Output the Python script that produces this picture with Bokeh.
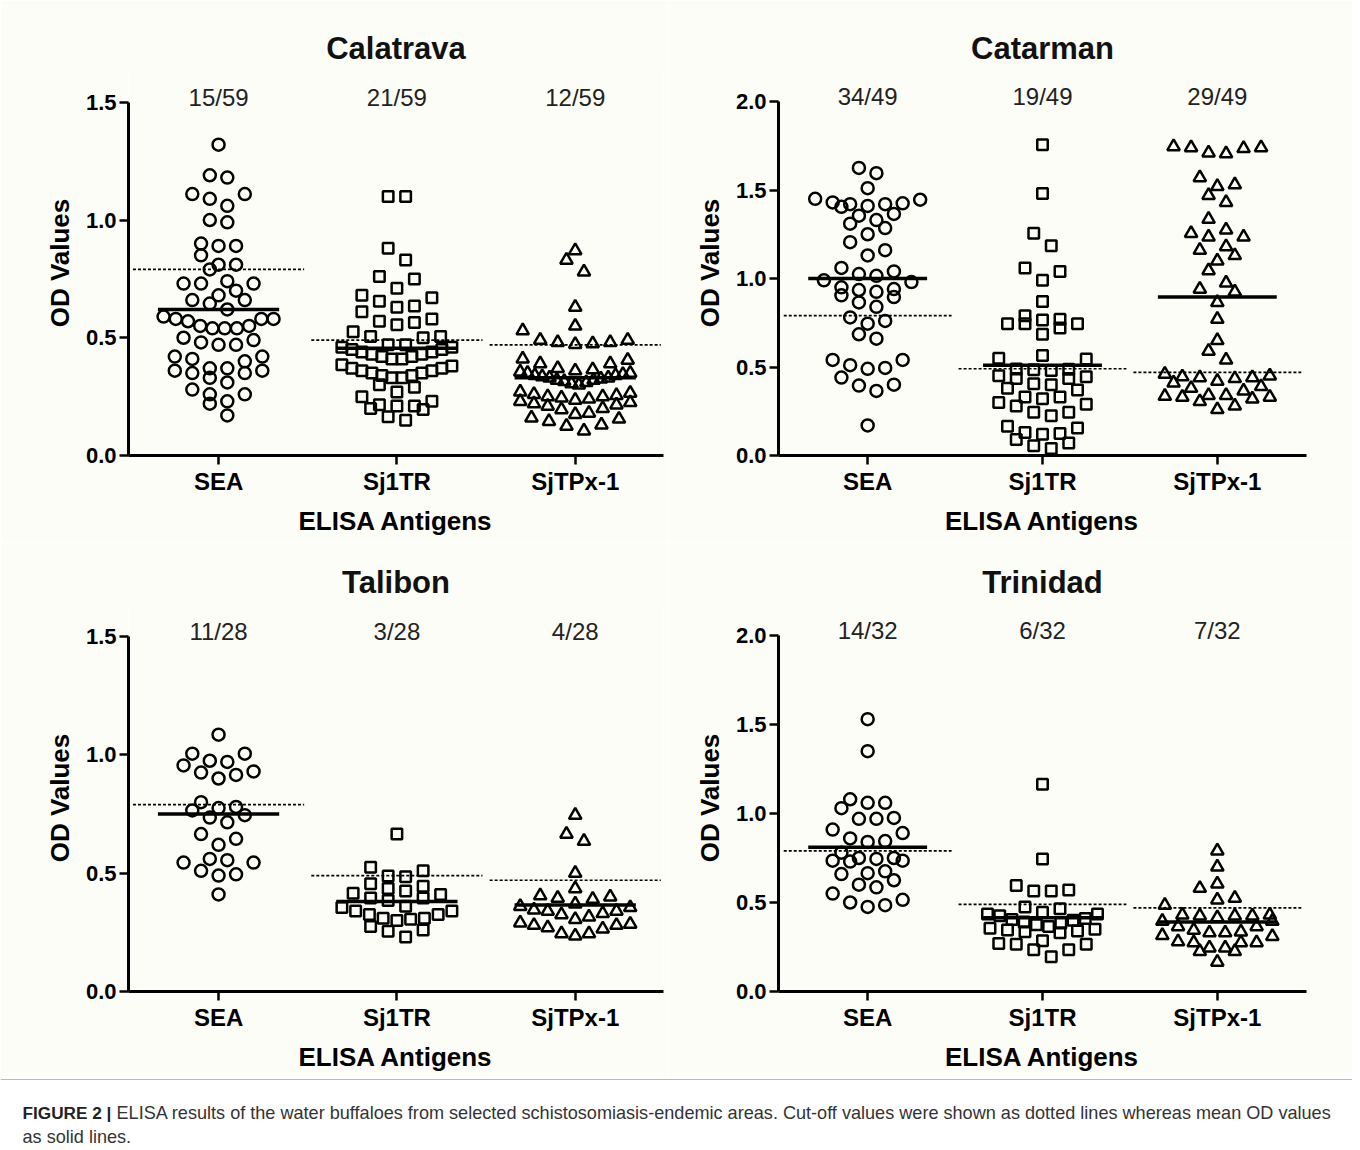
from bokeh.plotting import figure
from bokeh.models import Range1d, FixedTicker, PrintfTickFormatter
from bokeh.layouts import column, row
from bokeh.embed import file_html
from bokeh.resources import INLINE
from bokeh.core.properties import value

# ---------------- data ----------------
antigens = ["SEA", "Sj1TR", "SjTPx-1"]
cutoffs = [0.79, 0.49, 0.47]

calatrava_sea = [1.32, 1.19, 1.18, 1.11, 1.09, 1.11, 1.06, 1.00, 0.99, 0.89, 0.89, 0.90, 0.85,
                 0.81, 0.79, 0.81, 0.74, 0.73, 0.73, 0.73, 0.70, 0.68, 0.66, 0.66, 0.645,
                 0.62, 0.58, 0.58, 0.57, 0.58, 0.59, 0.55, 0.54, 0.54, 0.54, 0.55,
                 0.48, 0.47, 0.49, 0.50, 0.47, 0.42, 0.41, 0.42, 0.40,
                 0.37, 0.36, 0.35, 0.31, 0.33, 0.35, 0.36, 0.37, 0.28, 0.26, 0.26, 0.23, 0.22, 0.17]
calatrava_sj1tr = [1.10, 1.10, 0.88, 0.83, 0.76, 0.75, 0.71, 0.68, 0.655, 0.67, 0.63, 0.635,
                   0.58, 0.57, 0.61, 0.555, 0.565, 0.505, 0.50, 0.505, 0.525,
                   0.47, 0.47, 0.46, 0.46, 0.45, 0.45, 0.44, 0.44, 0.43, 0.43, 0.42, 0.42, 0.41,
                   0.41, 0.385,
                   0.38, 0.37, 0.37, 0.36, 0.36, 0.35, 0.35, 0.34, 0.34, 0.33, 0.33,
                   0.30, 0.27, 0.29, 0.21, 0.195, 0.23, 0.215, 0.25, 0.20, 0.21, 0.15, 0.165]
calatrava_sjtpx = [0.87, 0.83, 0.78, 0.63, 0.55, 0.53, 0.49, 0.48, 0.475, 0.48, 0.49, 0.472,
                   0.41, 0.39, 0.39, 0.405, 0.37, 0.365,
                   0.36, 0.355, 0.35, 0.35, 0.345, 0.34, 0.34, 0.335, 0.33, 0.33, 0.325, 0.32,
                   0.32, 0.315, 0.31, 0.305, 0.30,
                   0.27, 0.265, 0.26, 0.255, 0.25, 0.25, 0.245, 0.24, 0.235, 0.23, 0.225, 0.22,
                   0.215, 0.21, 0.20, 0.195,
                   0.175, 0.155, 0.13, 0.105, 0.125, 0.145, 0.16, 0.18]

catarman_sea = [1.625, 1.595, 1.51, 1.45, 1.43, 1.42, 1.405, 1.365, 1.355, 1.41, 1.42, 1.425, 1.445,
                1.31, 1.285, 1.33, 1.25, 1.205, 1.16, 1.13, 1.04, 1.015, 1.025, 1.06,
                0.99, 0.95, 0.935, 0.905, 0.895, 0.925, 0.94, 0.98, 0.865, 0.84,
                0.76, 0.78, 0.745, 0.685, 0.66, 0.54, 0.54, 0.51, 0.49, 0.495,
                0.44, 0.395, 0.365, 0.40, 0.17]
catarman_sj1tr = [1.755, 1.48, 1.255, 1.185, 1.04, 0.99, 1.06, 0.87, 0.765, 0.745, 0.72, 0.79,
                  0.685, 0.745, 0.745, 0.77, 0.565, 0.545, 0.487, 0.48, 0.485, 0.488, 0.55,
                  0.45, 0.435, 0.405, 0.38, 0.37, 0.40, 0.435, 0.445,
                  0.33, 0.32, 0.30, 0.28, 0.245, 0.245, 0.29, 0.33, 0.225,
                  0.125, 0.165, 0.09, 0.155, 0.07, 0.13, 0.04, 0.055, 0.12]
catarman_sjtpx = [1.74, 1.74, 1.71, 1.705, 1.735, 1.745, 1.57, 1.53, 1.52, 1.47, 1.43, 1.335,
                  1.235, 1.275, 1.235, 1.255, 1.18, 1.16, 1.10, 1.13, 1.045, 0.975, 0.94, 0.925,
                  0.865, 0.77, 0.65, 0.59, 0.54,
                  0.45, 0.44, 0.435, 0.41, 0.38, 0.365, 0.39, 0.42, 0.44, 0.445, 0.46,
                  0.34, 0.335, 0.33, 0.305, 0.26, 0.28, 0.32, 0.33, 0.34]

talibon_sea = [1.085, 1.005, 1.005, 0.97, 0.975, 0.955, 0.93, 0.915, 0.90, 0.925,
               0.78, 0.80, 0.775, 0.765, 0.735, 0.715, 0.745, 0.665, 0.62, 0.645,
               0.56, 0.545, 0.545, 0.555, 0.51, 0.49, 0.495, 0.41]
talibon_sj1tr = [0.665, 0.525, 0.488, 0.485, 0.51, 0.455, 0.435, 0.415, 0.395, 0.385, 0.395,
                 0.41, 0.425, 0.445, 0.355, 0.34, 0.325, 0.31, 0.305, 0.31, 0.325, 0.34, 0.36,
                 0.30, 0.26, 0.23, 0.255, 0.275]
talibon_sjtpx = [0.745, 0.635, 0.665, 0.50, 0.435, 0.39, 0.405, 0.395, 0.40,
                 0.36, 0.345, 0.34, 0.325, 0.315, 0.33, 0.34, 0.355, 0.37,
                 0.29, 0.28, 0.27, 0.245, 0.235, 0.245, 0.265, 0.28, 0.285, 0.305]

trinidad_sea = [1.53, 1.35, 1.06, 1.08, 1.03, 1.06, 0.975, 0.97, 0.97, 0.89, 0.91, 0.845, 0.84,
                0.86, 0.78, 0.75, 0.735, 0.73, 0.735, 0.745, 0.75, 0.675, 0.66, 0.60, 0.585,
                0.625, 0.665, 0.55, 0.50, 0.475, 0.485, 0.515]
trinidad_sj1tr = [1.165, 0.745, 0.595, 0.565, 0.565, 0.57, 0.465, 0.435, 0.425, 0.435, 0.445, 0.475,
                  0.41, 0.405, 0.40, 0.39, 0.385, 0.375, 0.365, 0.355, 0.35, 0.345, 0.34, 0.335, 0.33,
                  0.285, 0.265, 0.235, 0.195, 0.235, 0.265, 0.27]
trinidad_sjtpx = [0.79, 0.70, 0.605, 0.58, 0.525, 0.515, 0.485, 0.43, 0.425, 0.415, 0.395, 0.395,
                  0.425, 0.43, 0.425, 0.365, 0.345, 0.33, 0.31, 0.28, 0.275, 0.275, 0.275, 0.315,
                  0.33, 0.335, 0.365, 0.245, 0.225, 0.225, 0.245, 0.165]

calatrava_means = [0.62, 0.455, 0.33]
catarman_means = [1.0, 0.51, 0.895]
talibon_means = [0.75, 0.38, 0.365]
trinidad_means = [0.81, 0.415, 0.39]

calatrava_pos = ["15/59", "21/59", "12/59"]
catarman_pos = ["34/49", "19/49", "29/49"]
talibon_pos = ["11/28", "3/28", "4/28"]
trinidad_pos = ["14/32", "6/32", "7/32"]

caption_bold = "FIGURE 2 |"
caption_line1 = ("ELISA results of the water buffaloes from selected schistosomiasis-endemic areas. "
                 "Cut-off values were shown as dotted lines whereas mean OD values")
caption_line2 = "as solid lines."

# ---------------- styling ----------------
BG = "#FDFDF8"
FONT = "Liberation Sans"
markers = ["circle", "square", "triangle"]
marker_sizes = [12, 10.5, 12.5]


def swarm_offsets(vals, ppu_x, ppu_y, row_px=14.0, step_px=17.5, half_px=55.0):
    idx = sorted(range(len(vals)), key=lambda i: vals[i])
    rows, cur, start = [], [], None
    for i in idx:
        if cur and (vals[i] - start) * ppu_y < row_px:
            cur.append(i)
        else:
            if cur:
                rows.append(cur)
            cur, start = [i], vals[i]
    if cur:
        rows.append(cur)
    off = [0.0] * len(vals)
    for r in rows:
        n = len(r)
        if n == 1:
            continue
        step = min(step_px, 2 * half_px / (n - 1))
        slots = [(k - (n - 1) / 2) * step for k in range(n)]
        slots.sort(key=lambda s: (-abs(s), s))
        r_sorted = sorted(r, key=lambda i: -vals[i])
        for i, s in zip(r_sorted, slots):
            off[i] = s / ppu_x
    return off


def panel(title, groups, means, pos, ymax, width, height, mb_left, mb_right, mb_top, mb_bottom,
          xr, ppu_y):
    frame_h = height - mb_top - mb_bottom
    frame_w = width - mb_left - mb_right
    ytop = frame_h / ppu_y
    p = figure(width=width, height=height, x_range=Range1d(*xr), y_range=Range1d(0, ytop),
               output_backend="svg", toolbar_location=None,
               min_border_left=mb_left, min_border_right=mb_right,
               min_border_top=mb_top, min_border_bottom=mb_bottom,
               background_fill_color=BG, border_fill_color=BG, outline_line_color=None)
    p.grid.visible = False
    ppu_x = frame_w / (xr[1] - xr[0])

    p.title.text = title
    p.title.align = "center"
    p.title.text_font = FONT
    p.title.text_font_size = "31px"
    p.title.text_font_style = "bold"
    p.title.text_color = "#111111"

    for k, vals in enumerate(groups):
        off = swarm_offsets(vals, ppu_x, ppu_y)
        xs = [k + 1 + o for o in off]
        p.scatter(xs, vals, marker=markers[k], size=marker_sizes[k], fill_color=None,
                  line_color="black", line_width=2.5)

    cx = [k + 1 for k in range(3)]
    p.segment(x0=[c - 0.48 for c in cx], x1=[c + 0.48 for c in cx], y0=cutoffs, y1=cutoffs,
              line_color="black", line_width=1.7, line_dash="3 2")
    p.segment(x0=[c - 0.34 for c in cx], x1=[c + 0.34 for c in cx], y0=means, y1=means,
              line_color="black", line_width=3.5)

    p.text(x=cx, y=[ymax * 1.014] * 3, text=pos, text_align="center", text_baseline="middle",
           text_font=value(FONT), text_font_size="24px", text_color="#222222")

    # axes
    p.yaxis.ticker = FixedTicker(ticks=[t * 0.5 for t in range(int(ymax / 0.5) + 1)])
    p.yaxis.formatter = PrintfTickFormatter(format="%.1f")
    p.yaxis.bounds = (0, ymax)
    p.yaxis.axis_label = "OD Values"
    p.xaxis.ticker = FixedTicker(ticks=cx)
    p.xaxis.major_label_overrides = {c: a for c, a in zip(cx, antigens)}
    p.xaxis.axis_label = "ELISA Antigens"
    for ax in (p.xaxis, p.yaxis):
        ax.axis_line_width = 3
        ax.axis_line_color = "black"
        ax.major_tick_line_width = 2.5
        ax.major_tick_line_color = "black"
        ax.major_tick_in = 0
        ax.major_tick_out = 9
        ax.minor_tick_line_color = None
        ax.major_label_text_font = FONT
        ax.major_label_text_font_style = "bold"
        ax.major_label_text_color = "black"
        ax.axis_label_text_font = FONT
        ax.axis_label_text_font_style = "bold"
        ax.axis_label_text_font_size = "26px"
        ax.axis_label_text_color = "black"
    p.yaxis.major_label_text_font_size = "22px"
    p.xaxis.major_label_text_font_size = "24px"
    p.yaxis.major_label_standoff = 3
    p.xaxis.major_label_standoff = 3
    p.yaxis.axis_label_standoff = 8
    p.xaxis.axis_label_standoff = 8
    return p


p1 = panel("Calatrava", [calatrava_sea, calatrava_sj1tr, calatrava_sjtpx], calatrava_means,
           calatrava_pos, 1.5, 668, 542, 128, 5, 70, 84, (0.495, 3.495), 356 / 1.5)
p2 = panel("Catarman", [catarman_sea, catarman_sj1tr, catarman_sjtpx], catarman_means,
           catarman_pos, 2.0, 684, 542, 110, 46, 70, 87, (0.49, 3.51), 354 / 2.0)
p3 = panel("Talibon", [talibon_sea, talibon_sj1tr, talibon_sjtpx], talibon_means,
           talibon_pos, 1.5, 668, 534, 128, 5, 62, 85, (0.495, 3.495), 355 / 1.5)
p4 = panel("Trinidad", [trinidad_sea, trinidad_sj1tr, trinidad_sjtpx], trinidad_means,
           trinidad_pos, 2.0, 684, 534, 110, 46, 62, 85, (0.49, 3.51), 356 / 2.0)

cap = figure(width=1352, height=72, x_range=Range1d(0, 1352), y_range=Range1d(72, 0),
             output_backend="svg", toolbar_location=None, min_border=0,
             background_fill_color="white", border_fill_color="white", outline_line_color=None)
cap.axis.visible = False
cap.grid.visible = False
cap.segment(x0=[0], x1=[1352], y0=[3], y1=[3], line_color="#BBBBBB", line_width=1)
cap.text(x=[22], y=[36], text=[caption_bold], text_baseline="middle", text_font=value(FONT),
         text_font_size="17.2px", text_font_style="bold", text_color="#222222")
cap.text(x=[116], y=[36], text=[caption_line1], text_baseline="middle", text_font=value(FONT),
         text_font_size="18.1px", text_color="#333333")
cap.text(x=[22], y=[60], text=[caption_line2], text_baseline="middle", text_font=value(FONT),
         text_font_size="18.1px", text_color="#333333")

layout = column(row(p1, p2), row(p3, p4), cap)
open("out.html", "w").write(file_html(layout, INLINE))
